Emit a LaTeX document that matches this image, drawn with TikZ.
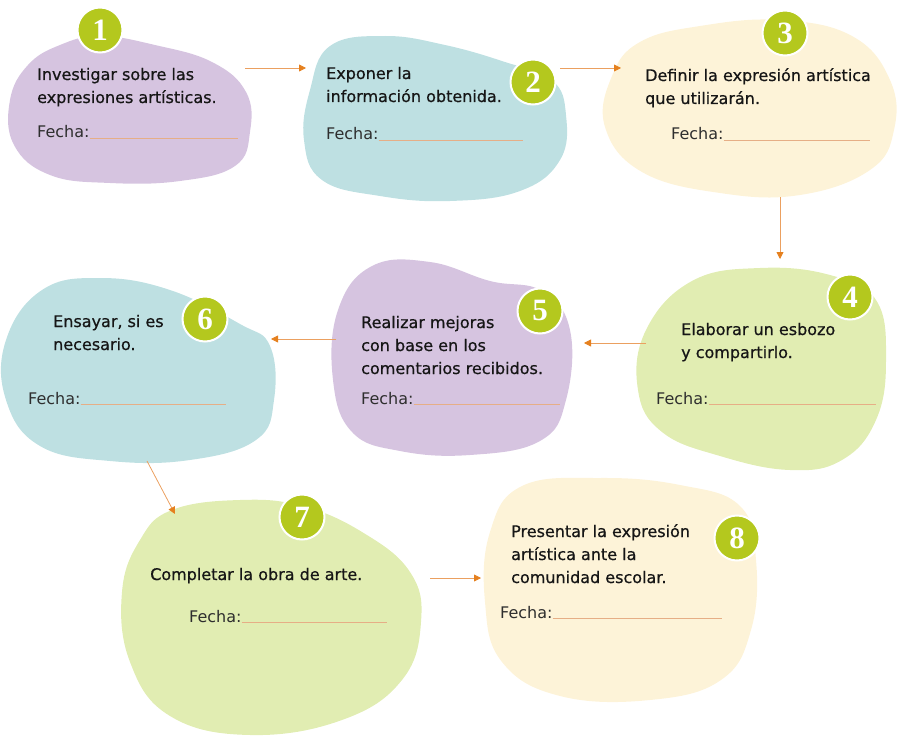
\documentclass[tikz,border=0pt]{standalone}
\usepackage{fontspec}
\setmainfont{DejaVu Sans}
\newfontfamily\numfont{Liberation Serif}
\newfontfamily\stepfont[FakeBold=0.6]{DejaVu Sans}
\usetikzlibrary{arrows.meta}
\definecolor{cpurple}{HTML}{D6C4E0}
\definecolor{cteal}{HTML}{BEE0E2}
\definecolor{ccream}{HTML}{FDF3D8}
\definecolor{cgreen}{HTML}{E1EDB2}
\definecolor{cbadge}{HTML}{B4C81E}
\definecolor{carrow}{HTML}{EBA060}
\definecolor{ctip}{HTML}{E5801E}
\definecolor{cline}{HTML}{E6AE86}
\definecolor{ctext}{HTML}{161616}
\definecolor{cfecha}{HTML}{2E2E2E}
\tikzset{
  badge/.style={circle,fill=cbadge,draw=white,line width=2pt,minimum size=45pt,inner sep=0pt,
    text=white,font=\numfont\bfseries\fontsize{31}{31}\selectfont},
  steptext/.style={anchor=base west,inner sep=0pt,align=left,text=ctext,
    font=\stepfont\fontsize{16}{23}\selectfont},
  fecha/.style={anchor=base west,inner sep=0pt,text=cfecha,
    font=\fontsize{16}{23}\selectfont},
  fline/.style={draw=cline,line width=0.8pt},
  flow/.style={draw=carrow,line width=0.8pt,-{Triangle[length=7pt,width=7pt,color=ctip]}}
}
\begin{document}
\begin{tikzpicture}[x=1pt,y=-1pt]
\useasboundingbox (0,0) rectangle (900,741);
% blobs
\fill[cpurple] plot[smooth cycle,tension=0.7] coordinates {(60,45) (100,36) (155,45) (212,62) (246,92) (250,132) (235,166) (180,181) (110,183) (50,175) (14,145) (10,100) (28,65)};
\fill[cteal] plot[smooth cycle,tension=0.7] coordinates {(330,46) (385,36) (445,45) (505,62) (552,80) (566,115) (560,160) (520,191) (450,201) (380,196) (322,180) (304,140) (310,90)};
\fill[ccream] plot[smooth cycle,tension=0.7] coordinates {(640,42) (700,26) (780,20) (852,36) (890,80) (894,130) (870,170) (800,195) (720,193) (642,172) (605,127) (612,76)};
\fill[cgreen] plot[smooth cycle,tension=0.7] coordinates {(692,281) (760,268) (830,275) (876,300) (886,360) (876,420) (842,460) (790,470) (720,456) (662,432) (638,390) (646,330)};
\fill[cpurple] plot[smooth cycle,tension=0.7] coordinates {(372,266) (430,262) (490,281) (542,291) (570,330) (566,400) (540,441) (470,455) (400,451) (352,432) (333,380) (338,310)};
\fill[cteal] plot[smooth cycle,tension=0.7] coordinates {(42,290) (100,278) (170,290) (240,324) (270,346) (274,400) (256,440) (190,460) (110,461) (40,446) (6,400) (6,340)};
\fill[cgreen] plot[smooth cycle,tension=0.7] coordinates {(172,510) (240,500) (302,506) (362,532) (410,572) (421,622) (402,680) (342,720) (250,735) (170,716) (130,662) (122,592) (140,540)};
\fill[ccream] plot[smooth cycle,tension=0.7] coordinates {(522,486) (600,478) (680,485) (740,506) (756,560) (751,630) (721,680) (650,700) (560,696) (502,662) (485,602) (490,532)};
% badges
\node[badge] (b1) at (100,30) {1};
\node[badge] (b2) at (533,82) {2};
\node[badge] (b3) at (785,33) {3};
\node[badge] (b4) at (850,297) {4};
\node[badge] (b5) at (540,311) {5};
\node[badge] (b6) at (205,319) {6};
\node[badge] (b7) at (302,517) {7};
\node[badge] (b8) at (737,538) {8};
% texts (anchored at the baseline of the last line)
\node[steptext] (t1) at (37,103) {Investigar sobre las\\expresiones artísticas.};
\node[steptext] (t2) at (326,102) {Exponer la\\información obtenida.};
\node[steptext] (t3) at (645,104) {Definir la expresión artística\\que utilizarán.};
\node[steptext] (t4) at (681,358) {Elaborar un esbozo\\y compartirlo.};
\node[steptext] (t5) at (361,374) {Realizar mejoras\\con base en los\\comentarios recibidos.};
\node[steptext] (t6) at (53,350) {Ensayar, si es\\necesario.};
\node[steptext] (t7) at (150,580) {Completar la obra de arte.};
\node[steptext] (t8) at (511,583) {Presentar la expresión\\artística ante la\\comunidad escolar.};
% fecha
\node[fecha] (f1) at (37,138) {Fecha:};
\node[fecha] (f2) at (326,140) {Fecha:};
\node[fecha] (f3) at (671,140) {Fecha:};
\node[fecha] (f4) at (656,404) {Fecha:};
\node[fecha] (f5) at (361,404) {Fecha:};
\node[fecha] (f6) at (28,404) {Fecha:};
\node[fecha] (f7) at (189,622) {Fecha:};
\node[fecha] (f8) at (500,618) {Fecha:};
\coordinate (l1) at (238,138); \coordinate (l2) at (523,140); \coordinate (l3) at (870,140);
\coordinate (l4) at (876,404); \coordinate (l5) at (560,404); \coordinate (l6) at (226,404);
\coordinate (l7) at (387,622); \coordinate (l8) at (722,618);
\foreach \i in {1,...,8} { \draw[fline] (f\i.base east) -- (l\i); }
% arrows
\coordinate (a1s) at (245,68); \coordinate (a1e) at (306,68);
\coordinate (a2s) at (560,68); \coordinate (a2e) at (621,68);
\coordinate (a3s) at (780,197); \coordinate (a3e) at (780,259);
\coordinate (a4s) at (646,343); \coordinate (a4e) at (584,343);
\coordinate (a5s) at (336,339); \coordinate (a5e) at (271,339);
\coordinate (a6s) at (147,461); \coordinate (a6e) at (175,514);
\coordinate (a7s) at (430,578); \coordinate (a7e) at (481,578);
\foreach \i in {1,...,7} { \draw[flow] (a\i s) -- (a\i e); }
\end{tikzpicture}
\end{document}
